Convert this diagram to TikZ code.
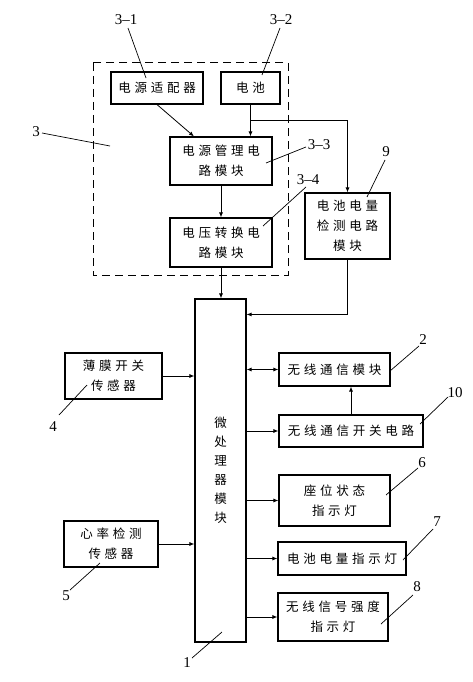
\documentclass[tikz,border=0pt]{standalone}
\usepackage{fontspec}
\setmainfont{Liberation Serif}
\newfontfamily\cjk[LetterSpace=30]{Noto Sans CJK SC}
\newfontfamily\cjkv{Noto Sans CJK SC}
\usetikzlibrary{arrows.meta}
\begin{document}
\begin{tikzpicture}[x=1pt,y=-1pt,
  box/.style={draw, line width=1.1pt, inner sep=0pt, align=center, font=\cjk\fontsize{12.5}{20}\selectfont},
  arr/.style={-{Latex[length=5pt,width=4pt]}, line width=0.8pt},
  darr/.style={{Latex[length=5pt,width=4pt]}-{Latex[length=5pt,width=4pt]}, line width=0.8pt},
  num/.style={font=\fontsize{15}{16}\selectfont, inner sep=0pt},
  lead/.style={line width=0.7pt}]
\useasboundingbox (0,0) rectangle (473,682);
% dashed group
\draw[line width=1pt, dash pattern=on 8pt off 5pt] (93,63) rectangle (288,275);
% boxes
\node[box, minimum width=92pt, minimum height=32pt] (adp) at (157,88) {电源适配器};
\node[box, minimum width=59pt, minimum height=32pt] (bat) at (250.5,88) {电池};
\node[box, minimum width=102pt, minimum height=48pt] (pm) at (221,161) {电源管理电\\路模块};
\node[box, minimum width=102pt, minimum height=49pt] (vc) at (221,242.5) {电压转换电\\路模块};
\node[box, minimum width=85pt, minimum height=66pt] (bd) at (347.5,226) {电池电量\\检测电路\\模块};
\node[box, minimum width=51pt, minimum height=343pt, font=\cjkv\fontsize{12.5}{19}\selectfont] (mcu) at (220.5,470.5) {微\\处\\理\\器\\模\\块};
\node[box, minimum width=97pt, minimum height=46pt] (film) at (113.5,376) {薄膜开关\\传感器};
\node[box, minimum width=111pt, minimum height=33pt] (wl) at (334.5,369.5) {无线通信模块};
\node[box, minimum width=144pt, minimum height=32pt] (wsw) at (351,431) {无线通信开关电路};
\node[box, minimum width=111pt, minimum height=51pt] (seat) at (334.5,500.5) {座位状态\\指示灯};
\node[box, minimum width=94pt, minimum height=46pt] (hr) at (111,544) {心率检测\\传感器};
\node[box, minimum width=128pt, minimum height=33pt] (batind) at (342,558.5) {电池电量指示灯};
\node[box, minimum width=110pt, minimum height=48pt] (sig) at (333,617) {无线信号强度\\指示灯};
% connectors
\draw[arr] (adp.south) -- ([xshift=-27pt]pm.north);
\draw[arr] (bat.south) -- (bat.south |- pm.north);
\coordinate (br) at (250.5,120);
\draw[arr] (br) -| (bd.north);
\draw[arr] (pm.south) -- (vc.south |- vc.north);
\draw[arr] (vc.south) -- (vc.south |- mcu.north);
\draw[arr] (bd.south) |- ([yshift=-16pt]mcu.north east);
\draw[arr] (film.east) -- (film.east -| mcu.west);
\draw[arr] (hr.east) -- (hr.east -| mcu.west);
\draw[darr] (wl.west -| mcu.east) -- (wl.west);
\draw[arr] (wsw.west -| mcu.east) -- (wsw.west);
\draw[arr] (wsw.north) -- (wsw.north |- wl.south);
\draw[arr] (seat.west -| mcu.east) -- (seat.west);
\draw[arr] (batind.west -| mcu.east) -- (batind.west);
\draw[arr] (sig.west -| mcu.east) -- (sig.west);
% labels
\node[num] (n31) at (126,20) {3–1};
\draw[lead] (128,28) -- (146,78);
\node[num] (n32) at (281,20) {3–2};
\draw[lead] (280,28) -- (262,75);
\node[num] (n3) at (36,132) {3};
\draw[lead] (42,133) -- (110,146);
\node[num] (n33) at (319,145) {3–3};
\draw[lead] (306,147) -- (266,163);
\node[num] (n34) at (308,180) {3–4};
\draw[lead] (306,187) -- (263,226);
\node[num] (n9) at (386,152) {9};
\draw[lead] (385,160) -- (367,197);
\node[num] (n2) at (423,340) {2};
\draw[lead] (419,346) -- (390,371);
\node[num] (n10) at (455,393) {10};
\draw[lead] (448,397) -- (420,424);
\node[num] (n4) at (53,427) {4};
\draw[lead] (59,415) -- (87,385);
\node[num] (n6) at (422,463) {6};
\draw[lead] (418,468) -- (386,495);
\node[num] (n5) at (66,596) {5};
\draw[lead] (70,590) -- (100,563);
\node[num] (n7) at (437,522) {7};
\draw[lead] (433,529) -- (403,560);
\node[num] (n8) at (417,587) {8};
\draw[lead] (413,595) -- (381,624);
\node[num] (n1) at (187,663) {1};
\draw[lead] (192,658) -- (222,632);
\end{tikzpicture}
\end{document}
